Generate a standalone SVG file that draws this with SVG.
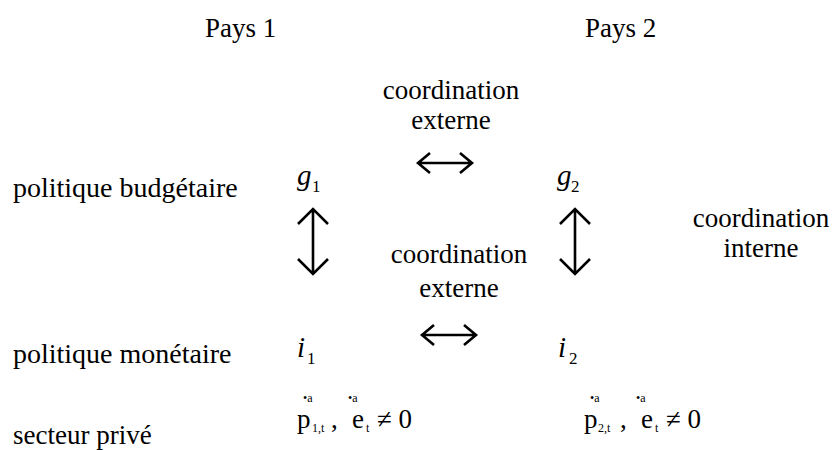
<svg xmlns="http://www.w3.org/2000/svg" width="833" height="450" viewBox="0 0 833 450" font-family="'Liberation Serif', 'Times New Roman', 'DejaVu Serif', serif">
<style>
text{font-family:'Liberation Serif','Times New Roman','DejaVu Serif',serif;fill:#000}
.t{font-size:27px}
.l{font-size:28px}
.v{font-size:29px;font-style:italic}
.s{font-size:17px}
.m{font-size:27px}
.ss{font-size:12px}
.ar{fill:none;stroke:#000;stroke-width:2.6}
</style>
<rect width="833" height="450" fill="#fff"/>
<g id="pays1"><text class="t" x="205" y="37">Pays 1</text></g>
<g id="pays2"><text class="t" x="585" y="37">Pays 2</text></g>
<g id="coord-ext-1"><text class="t" x="451" y="99" text-anchor="middle">coordination</text><text class="t" x="451" y="129" text-anchor="middle">externe</text></g>
<g id="label-budget"><text class="l" x="13" y="197">politique budgétaire</text></g>
<g id="label-monet"><text class="l" x="13" y="363">politique monétaire</text></g>
<g id="label-prive"><text class="t" x="13" y="444">secteur privé</text></g>
<g id="g1"><text class="v" x="297" y="185">g</text><text class="s" x="312" y="192">1</text></g>
<g id="g2"><text class="v" x="557" y="185">g</text><text class="s" x="571" y="192">2</text></g>
<g id="coord-int"><text class="t" x="761" y="227" text-anchor="middle">coordination</text><text class="t" x="761" y="257" text-anchor="middle">interne</text></g>
<g id="coord-ext-2"><text class="t" x="459" y="263" text-anchor="middle">coordination</text><text class="t" x="459" y="297" text-anchor="middle">externe</text></g>
<g id="i1"><text class="v" x="297" y="357">i</text><text class="s" x="307" y="364">1</text></g>
<g id="i2"><text class="v" x="558" y="357">i</text><text class="s" x="569" y="364">2</text></g>
<g id="prive1">
<text class="ss" x="303" y="402">•a</text><text class="ss" x="348" y="402">•a</text>
<text class="m" x="297" y="428">p</text><text class="ss" x="312" y="432">1,t</text><text class="m" x="331" y="428">,</text>
<text class="m" x="352" y="428">e</text><text class="ss" x="366" y="432">t</text>
<text class="m" x="377" y="428">≠ 0</text>
</g>
<g id="prive2">
<text class="ss" x="590" y="402">•a</text><text class="ss" x="636" y="402">•a</text>
<text class="m" x="584" y="428">p</text><text class="ss" x="598" y="432">2,t</text><text class="m" x="620" y="428">,</text>
<text class="m" x="641" y="428">e</text><text class="ss" x="655" y="432">t</text>
<text class="m" x="666" y="428">≠ 0</text>
</g>
<g id="connectors">
<path class="ar" d="M418,163 H472 M430,153 L418,163 L430,173 M460,153 L472,163 L460,173"/>
<path class="ar" d="M422,335 H476 M434,325 L422,335 L434,345 M464,325 L476,335 L464,345"/>
<path class="ar" d="M313,209 V274 M298,224 L313,209 L328,224 M298,259 L313,274 L328,259"/>
<path class="ar" d="M575,209 V274 M560,224 L575,209 L590,224 M560,259 L575,274 L590,259"/>
</g>
</svg>
